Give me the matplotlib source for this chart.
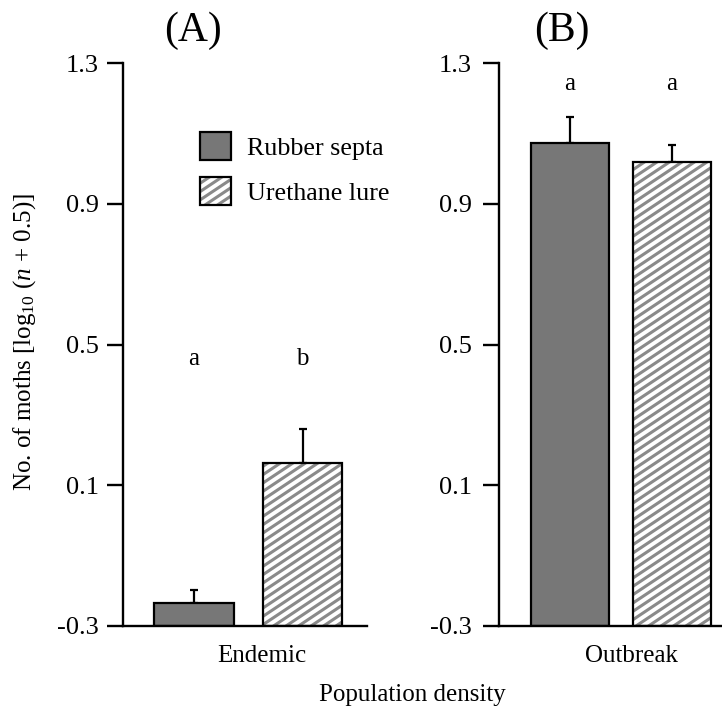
import matplotlib
matplotlib.use("Agg")
import numpy as np
import matplotlib.pyplot as plt
import matplotlib.hatch as mhatch
from matplotlib.path import Path
from matplotlib.patches import Patch
from matplotlib.legend_handler import HandlerTuple

plt.rcParams['font.family'] = ['Liberation Serif', 'DejaVu Serif']
plt.rcParams['mathtext.fontset'] = 'custom'
plt.rcParams['mathtext.rm'] = 'Liberation Serif'
plt.rcParams['mathtext.it'] = 'Liberation Serif:italic'
plt.rcParams['hatch.linewidth'] = 2.2


# shallower diagonal hatch (slope 2/3) to mimic the reference stripes
class SlantHatch(mhatch.HatchPatternBase):
    slope = 2.0 / 3.0

    def __init__(self, hatch, density):
        self.n = int(hatch.count('/') * density)
        self.num_vertices = (2 * self.n + 1) * 2 if self.n else 0

    def set_vertices_and_codes(self, vertices, codes):
        ks = np.arange(-self.n, self.n + 1) / self.n
        x0, x1 = -0.1, 1.1
        vertices[0::2, 0] = x0
        vertices[0::2, 1] = ks + self.slope * x0
        vertices[1::2, 0] = x1
        vertices[1::2, 1] = ks + self.slope * x1
        codes[0::2] = Path.MOVETO
        codes[1::2] = Path.LINETO


mhatch._hatch_types = [SlantHatch if t is mhatch.NorthEastHatch else t
                       for t in mhatch._hatch_types]

# ---- data ----
categories = ["Endemic", "Outbreak"]
panel_titles = ["(A)", "(B)"]
series_names = ["Rubber septa", "Urethane lure"]
rubber_means = [-0.235, 1.073]
rubber_se = [0.037, 0.074]
urethane_means = [0.163, 1.019]
urethane_se = [0.097, 0.048]
sig_letters = [["a", "b"], ["a", "a"]]
sig_y = [0.442, 1.223]
yticks = [-0.3, 0.1, 0.5, 0.9, 1.3]
ytick_labels = ["-0.3", "0.1", "0.5", "0.9", "1.3"]
ymin, ymax = -0.3, 1.3

W, H = 722, 713
fig = plt.figure(figsize=(W / 100, H / 100), dpi=100)

dark = '#777777'
hatch_gray = '#8a8a8a'
FS = 18

# layout (pixels)
axes_px = [(123, 367), (499, 722)]
top_px, bot_px = 63, 626
bar_centers = [(0.291, 0.736), (0.318, 0.776)]
bar_widths = [0.324, 0.35]
label_pos = [0.570, 0.596]
tick_pad = [6, 8]

axs = []
for i in range(2):
    l, r = axes_px[i]
    ax = fig.add_axes([l / W, (H - bot_px) / H, (r - l) / W, (bot_px - top_px) / H])
    axs.append(ax)
    ax.set_xlim(0, 1)
    ax.set_ylim(ymin, ymax)
    c1, c2 = bar_centers[i]
    w = bar_widths[i]
    # rubber septa bar
    ax.bar(c1, rubber_means[i] - ymin, bottom=ymin, width=w, color=dark,
           edgecolor='black', linewidth=1.6, zorder=2)
    ax.errorbar(c1, rubber_means[i], yerr=[[0], [rubber_se[i]]], fmt='none',
                ecolor='black', elinewidth=1.6, capsize=3, capthick=1.6, zorder=1)
    # urethane lure bar (hatched)
    ax.bar(c2, urethane_means[i] - ymin, bottom=ymin, width=w, color='white',
           edgecolor=hatch_gray, hatch='//', linewidth=0, zorder=2)
    ax.bar(c2, urethane_means[i] - ymin, bottom=ymin, width=w, fill=False,
           edgecolor='black', linewidth=1.6, zorder=3)
    ax.errorbar(c2, urethane_means[i], yerr=[[0], [urethane_se[i]]], fmt='none',
                ecolor='black', elinewidth=1.6, capsize=3, capthick=1.6, zorder=1)
    # significance letters
    ax.text(c1, sig_y[i], sig_letters[i][0], ha='center', va='baseline', fontsize=FS)
    ax.text(c2, sig_y[i], sig_letters[i][1], ha='center', va='baseline', fontsize=FS)
    # spines / ticks
    for s in ['top', 'right']:
        ax.spines[s].set_visible(False)
    for s in ['left', 'bottom']:
        ax.spines[s].set_linewidth(1.7)
    ax.spines['bottom'].set_zorder(4)
    ax.set_yticks(yticks)
    ax.set_yticklabels(ytick_labels)
    ax.tick_params(axis='y', direction='out', length=11.5, width=1.7,
                   labelsize=19, pad=tick_pad[i])
    ax.set_xticks([label_pos[i]])
    ax.set_xticklabels([categories[i]])
    ax.tick_params(axis='x', length=0, labelsize=FS, pad=14)
    ax.text([0.285, 0.283][i], 1 + (63 - 41) / (bot_px - top_px), panel_titles[i],
            transform=ax.transAxes, ha='center', va='baseline', fontsize=30)

axs[0].set_ylabel(r'No. of moths [log$_{10}$ ($n$ + 0.5)]', fontsize=FS)
axs[0].yaxis.set_label_coords(25 / W, 1 - 342 / H, transform=fig.transFigure)
axs[0].yaxis.label.set_va('center')

fig.text(412 / W, 1 - 695 / H, 'Population density', ha='center', va='center', fontsize=FS)

# legend
h1 = Patch(facecolor=dark, edgecolor='black', linewidth=1.6)
h2a = Patch(facecolor='white', edgecolor=hatch_gray, hatch='//', linewidth=0)
h2b = Patch(fill=False, edgecolor='black', linewidth=1.6)
axs[0].legend([h1, (h2a, h2b)], series_names, handler_map={tuple: HandlerTuple(ndivide=1)},
              loc='upper left', bbox_to_anchor=(200 / W, 1 - 132 / H),
              bbox_transform=fig.transFigure, frameon=False, fontsize=18.7,
              handlelength=1.2, handleheight=1.3, labelspacing=0.64,
              handletextpad=0.62, borderpad=0, borderaxespad=0)

fig.savefig('out.png', dpi=100)
